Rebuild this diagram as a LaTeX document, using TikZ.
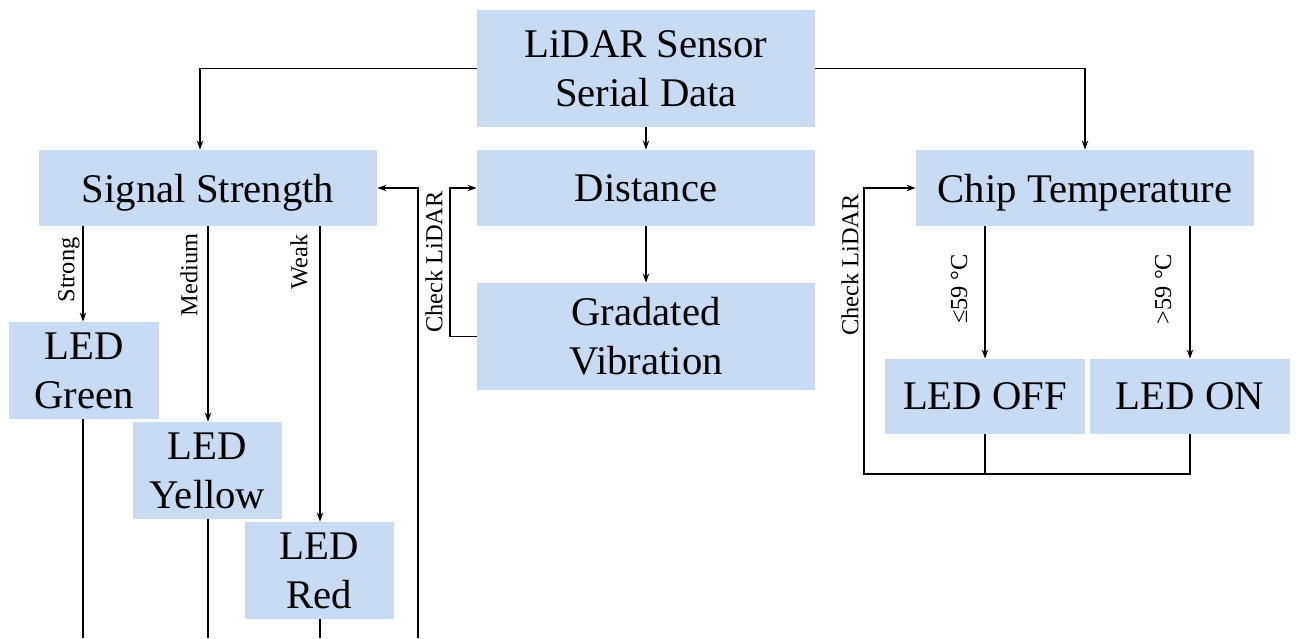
\documentclass[tikz,border=0pt]{standalone}
\usepackage{fontspec}
\setmainfont{Liberation Serif}
\usetikzlibrary{arrows.meta}
\definecolor{boxblue}{RGB}{201,218,243}
\begin{document}
\begin{tikzpicture}[x=0.5pt,y=-0.5pt,
  box/.style={fill=boxblue, inner sep=0pt, align=center, font=\fontsize{20.35pt}{24.5pt}\selectfont},
  onebox/.style={box, text depth=0pt},
  lbl/.style={rotate=90, inner sep=0pt, font=\fontsize{12.2pt}{14pt}\selectfont},
  conn/.style={line width=0.65pt},
  arr/.style={conn, -{Stealth[length=4.5pt,width=3.2pt]}}]
\useasboundingbox (0,0) rectangle (1296,638);
% boxes
\node[box, minimum width=169pt, minimum height=58.5pt] (top) at (646,68.5) {LiDAR Sensor\\Serial Data};
\node[onebox, minimum width=169pt, minimum height=38pt] (sig) at (208,188) {Signal Strength};
\node[onebox, minimum width=169pt, minimum height=38pt] (dist) at (646,188) {Distance};
\node[box, minimum width=169pt, minimum height=53.5pt] (grad) at (646,336.5) {Gradated\\Vibration};
\node[onebox, minimum width=169pt, minimum height=38pt] (chip) at (1085,188) {Chip Temperature};
\node[onebox, minimum width=100pt, minimum height=37.5pt] (off) at (985,396.5) {LED OFF};
\node[onebox, minimum width=100pt, minimum height=37.5pt] (on) at (1190,396.5) {LED ON};
\node[box, minimum width=75pt, minimum height=48.5pt] (green) at (84,370.5) {LED\\Green};
\node[box, minimum width=74.5pt, minimum height=48.5pt] (yellow) at (207.5,470.5) {LED\\Yellow};
\node[box, minimum width=74.5pt, minimum height=48.5pt] (red) at (319.5,570.5) {LED\\Red};
% top connectors
\draw[arr] (top.west) -| (sig.north -| 200,0);
\draw[arr] (top.south) -- (dist.north);
\draw[arr] (top.east) -| (chip.north);
\draw[arr] (dist.south) -- (grad.north);
% distance check loop
\coordinate (gl) at (450,336.5);
\draw[arr] (grad.west) -- (gl) |- (dist.west);
\node[lbl] (chk1) at (434,262) {Check LiDAR};
% signal strength branches
\coordinate (bl) at (418,638);
\draw[arr] (sig.south -| 83,0) -- (green.north -| 83,0);
\draw[arr] (sig.south -| 208,0) -- (yellow.north -| 208,0);
\draw[arr] (sig.south -| 320,0) -- (red.north -| 320,0);
\node[lbl] (strong) at (69,270) {Strong};
\node[lbl] (medium) at (189,275) {Medium};
\node[lbl] (weak) at (299,262) {Weak};
\draw[conn] (green.south -| 83,0) -- (83,638);
\draw[conn] (yellow.south -| 208,0) -- (208,638);
\draw[conn] (red.south -| 320,0) -- (320,638);
\draw[arr] (bl) |- (sig.east);
% chip temperature
\draw[arr] (chip.south -| off) -- (off.north);
\draw[arr] (chip.south -| on) -- (on.north);
\node[lbl] (le) at (959,289) {≤59 °C};
\node[lbl] (gt) at (1163,289) {>59 °C};
\coordinate (cb) at (864,474);
\draw[conn] (off.south) -- (off.south |- cb);
\draw[arr] (on.south) |- (cb) |- (chip.west);
\node[lbl] (chk2) at (850,265) {Check LiDAR};
\end{tikzpicture}
\end{document}
